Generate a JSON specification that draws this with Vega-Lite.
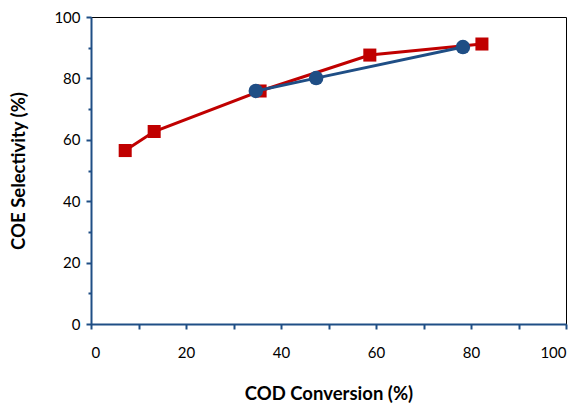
{
  "$schema": "https://vega.github.io/schema/vega-lite/v6.json",
  "autosize": {"type": "none"},
  "padding": {"left": 91, "top": 17, "right": 16, "bottom": 84},
  "width": 475,
  "height": 307,
  "background": "white",
  "config": {
    "view": {"stroke": "black", "strokeWidth": 1},
    "font": "Lato",
    "axis": {
      "grid": false,
      "domainColor": "#1F4E85",
      "domainWidth": 2,
      "tickColor": "#1F4E85",
      "tickWidth": 2,
      "labelFont": "Lato",
      "labelFontSize": 15,
      "labelColor": "#000000",
      "titleFont": "Lato",
      "titleFontSize": 18.5,
      "titleFontWeight": "bold",
      "titleColor": "#000000"
    }
  },
  "data": {
    "values": [
      {"series": "A", "x": 7.2, "y": 56.5},
      {"series": "A", "x": 13.3, "y": 62.7},
      {"series": "A", "x": 35.6, "y": 75.9},
      {"series": "A", "x": 58.7, "y": 87.6},
      {"series": "A", "x": 82.3, "y": 91.2},
      {"series": "B", "x": 34.7, "y": 75.9},
      {"series": "B", "x": 47.4, "y": 80.1},
      {"series": "B", "x": 78.3, "y": 90.2}
    ]
  },
  "encoding": {
    "x": {
      "field": "x", "type": "quantitative",
      "scale": {"domain": [0, 100], "nice": false, "zero": false},
      "axis": {
        "title": "COD Conversion  (%)",
        "values": [0, 10, 20, 30, 40, 50, 60, 70, 80, 90, 100],
        "labelExpr": "datum.value % 20 === 0 ? datum.label : ''",
        "tickSize": 5,
        "labelPadding": 16,
        "titlePadding": 24
      }
    },
    "y": {
      "field": "y", "type": "quantitative",
      "scale": {"domain": [0, 100], "nice": false, "zero": false},
      "axis": {
        "title": "COE  Selectivity (%)",
        "values": [0, 10, 20, 30, 40, 50, 60, 70, 80, 90, 100],
        "labelExpr": "datum.value % 20 === 0 ? datum.label : ''",
        "tickSize": {"condition": {"test": "datum.value % 20 === 0", "value": 5}, "value": 3},
        "labelPadding": 6,
        "titlePadding": 25
      }
    }
  },
  "layer": [
    {
      "transform": [{"filter": "datum.series === 'A'"}],
      "mark": {"type": "line", "color": "#C00000", "strokeWidth": 3},
      "encoding": {}
    },
    {
      "transform": [{"filter": "datum.series === 'A'"}],
      "mark": {"type": "point", "shape": "square", "filled": true, "color": "#C00000", "opacity": 1, "size": 170}
    },
    {
      "transform": [{"filter": "datum.series === 'B'"}],
      "mark": {"type": "line", "color": "#1F4E85", "strokeWidth": 3},
      "encoding": {}
    },
    {
      "transform": [{"filter": "datum.series === 'B'"}],
      "mark": {"type": "point", "shape": "circle", "filled": true, "color": "#1F4E85", "opacity": 1, "size": 210}
    }
  ]
}
